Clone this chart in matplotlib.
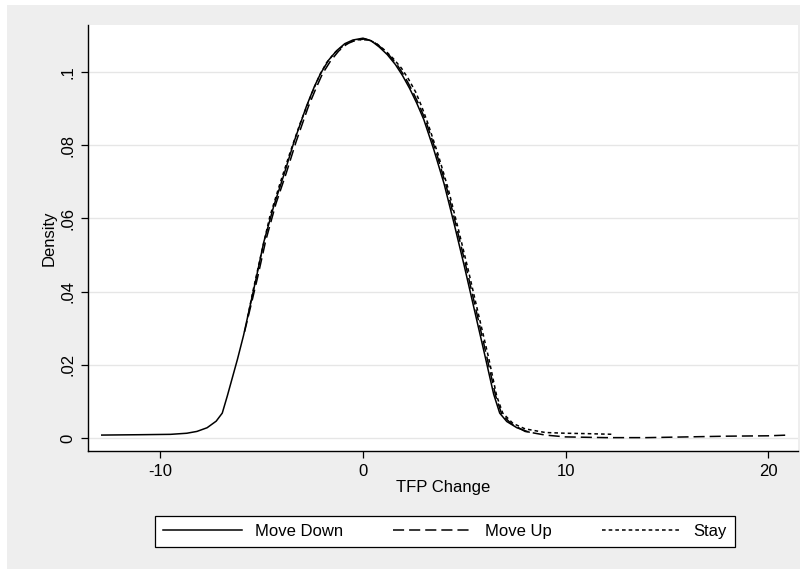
import numpy as np
import matplotlib
matplotlib.use("Agg")
import matplotlib.pyplot as plt
from matplotlib.patches import Rectangle

plt.rcParams["font.family"] = ["Liberation Sans", "DejaVu Sans"]
plt.rcParams["lines.scale_dashes"] = False
plt.rcParams["axes.unicode_minus"] = False

# kernel density estimates
down_x = [-12.9, -11.0, -9.5, -8.7, -8.2, -7.7, -7.25, -6.95, -6.7, -6.45,
          -6.2, -5.9, -5.6, -5.3, -4.9, -4.4, -3.9, -3.4, -2.8, -2.4, -2.1,
          -1.7, -1.3, -0.9, -0.5, 0.0, 0.4, 0.8, 1.2, 1.6, 1.95, 2.3, 2.65,
          3.0, 3.5, 4.0, 4.5, 5.0, 5.5, 6.0, 6.45, 6.75, 7.1, 7.6, 8.2]
down_y = [0.0008, 0.0009, 0.0010, 0.0013, 0.0018, 0.0028, 0.0046, 0.0068,
          0.0115, 0.0165, 0.0215, 0.0280, 0.0355, 0.0430, 0.0535, 0.0635,
          0.0720, 0.0810, 0.0905, 0.0960, 0.0995, 0.1032, 0.1058, 0.1077,
          0.1087, 0.1092, 0.1085, 0.1068, 0.1047, 0.1020, 0.0990, 0.0955,
          0.0915, 0.0870, 0.0787, 0.0695, 0.0585, 0.0470, 0.0350, 0.0230,
          0.0120, 0.0068, 0.0045, 0.0028, 0.0016]

up_x = [-5.85, -5.5, -5.2, -4.8, -4.3, -3.8, -3.3, -2.7, -2.3, -2.0, -1.6,
        -1.2, -0.8, -0.4, 0.1, 0.5, 0.9, 1.3, 1.7, 2.05, 2.4, 2.75, 3.1, 3.6,
        4.1, 4.6, 5.1, 5.6, 6.1, 6.55, 6.85, 7.3, 8.0, 9.0, 10.0, 12.0, 14.0,
        16.0, 18.0, 20.0, 21.0]
up_y = [0.0290, 0.0370, 0.0440, 0.0540, 0.0640, 0.0722, 0.0810, 0.0905,
        0.0958, 0.0995, 0.1030, 0.1057, 0.1076, 0.1086, 0.1090, 0.1083,
        0.1066, 0.1045, 0.1018, 0.0988, 0.0952, 0.0912, 0.0866, 0.0783,
        0.0690, 0.0580, 0.0465, 0.0345, 0.0225, 0.0115, 0.0065, 0.0040,
        0.0018, 0.0008, 0.0003, 0.0001, 0.0001, 0.0003, 0.0005, 0.0006,
        0.0008]

stay_x = [-5.7, -5.4, -5.0, -4.6, -4.1, -3.6, -3.1, -2.5, -2.15, -1.8, -1.4,
          -1.0, -0.6, -0.2, 0.3, 0.7, 1.1, 1.5, 1.9, 2.25, 2.6, 2.9, 3.2, 3.7,
          4.2, 4.7, 5.2, 5.7, 6.2, 6.6, 6.9, 7.4, 8.0, 9.0, 10.0, 11.0, 12.4]
stay_y = [0.0330, 0.0410, 0.0510, 0.0605, 0.0695, 0.0780, 0.0860, 0.0945,
          0.0990, 0.1025, 0.1052, 0.1070, 0.1082, 0.1088, 0.1087, 0.1076,
          0.1058, 0.1036, 0.1010, 0.0980, 0.0945, 0.0905, 0.0860, 0.0776,
          0.0682, 0.0572, 0.0458, 0.0338, 0.0220, 0.0115, 0.0068, 0.0040,
          0.0025, 0.0015, 0.0013, 0.0012, 0.0010]

yticks = [0, 0.02, 0.04, 0.06, 0.08, 0.1]
ytick_labels = ["0", ".02", ".04", ".06", ".08", ".1"]
xticks = [-10, 0, 10, 20]

fig = plt.figure(figsize=(8.08, 5.75), dpi=100)
fig.patch.set_facecolor("white")
fig.patches.append(Rectangle((7 / 808, 1 - 569 / 575), 793 / 808, 564 / 575,
                             transform=fig.transFigure, facecolor="#eeeeee",
                             edgecolor="none", zorder=-10))

ax = fig.add_axes([88 / 808, 1 - 451 / 575, 710 / 808, 426 / 575])
ax.set_facecolor("white")

ax.plot(down_x, down_y, color="black", lw=1.1, label="Move Down")
ax.plot(up_x, up_y, color="black", lw=1.1, linestyle=(0, (8, 3.6)),
        label="Move Up")
ax.plot(stay_x, stay_y, color="black", lw=1.1, linestyle=(0, (2.6, 2.2)),
        label="Stay")

ax.set_xlim(-13.58, 21.48)
ax.set_ylim(-0.00355, 0.1128)
ax.set_xticks(xticks)
ax.set_yticks(yticks)
ax.set_yticklabels(ytick_labels, rotation=90, va="center")
ax.tick_params(labelsize=12, length=5, width=0.9, color="black", pad=4)
ax.grid(axis="y", color="#e6e6e6", lw=1.0)
ax.set_axisbelow(True)
for side in ["top", "right"]:
    ax.spines[side].set_visible(False)
for side in ["left", "bottom"]:
    ax.spines[side].set_linewidth(1.0)

ax.set_xlabel("TFP Change", fontsize=12, labelpad=1)
ax.set_ylabel("Density", fontsize=12, labelpad=3)

leg = fig.legend(loc="center", bbox_to_anchor=(445 / 808, 1 - 531.5 / 575),
                 ncol=3, fontsize=12, frameon=True, fancybox=False,
                 edgecolor="black", framealpha=1, handlelength=4.7,
                 handletextpad=0.8, columnspacing=3.0, borderpad=0.5)
leg.get_frame().set_linewidth(0.9)

fig.savefig("out.png", dpi=100, facecolor=fig.get_facecolor())
